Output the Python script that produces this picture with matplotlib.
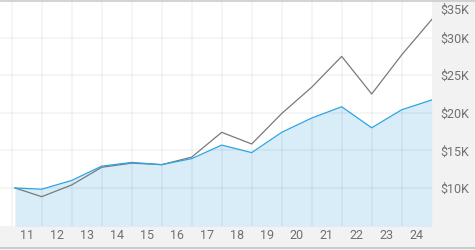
import matplotlib
matplotlib.use("Agg")
import matplotlib.pyplot as plt
from matplotlib.ticker import FixedLocator

# Data (values in $K)
dates = [2011.11, 2012, 2013, 2014, 2015, 2016, 2017, 2018, 2019, 2020,
         2021, 2022, 2023, 2024, 2025]
fund = [10.0, 9.83, 11.0, 12.9, 13.4, 13.1, 13.9, 15.7, 14.7, 17.4,
        19.3, 20.8, 18.0, 20.4, 21.7]
index = [10.0, 8.84, 10.4, 12.75, 13.3, 13.1, 14.1, 17.4, 15.85, 19.9,
         23.4, 27.5, 22.5, 27.7, 32.4]
year_labels = ["11", "12", "13", "14", "15", "16", "17", "18", "19", "20",
               "21", "22", "23", "24"]
year_pos = [2011.5 + i for i in range(len(year_labels))]
y_ticks = [10, 15, 20, 25, 30]
y_labels = ["$10K", "$15K", "$20K", "$25K", "$30K"]

plt.rcParams['font.family'] = ['Roboto', 'DejaVu Sans']

fig = plt.figure(figsize=(4.75, 2.5), dpi=100, facecolor="#f2f2f2")
ax = fig.add_axes([0, 24 / 250, 431.7 / 475, 226 / 250])
ax.set_facecolor("white")

ax.fill_between(dates, fund, 0, color="#d8edf8", linewidth=0, zorder=1)
ax.plot(dates, index, color="#7a7a7a", linewidth=0.9, zorder=3)
ax.plot(dates, fund, color="#2aa5e3", linewidth=0.9, zorder=4)

ax.set_xlim(2010.61, 2025.0)
ax.set_ylim(4.94, 35)

# grid
ax.xaxis.set_minor_locator(FixedLocator(list(range(2011, 2025))))
ax.set_xticks(year_pos)
ax.set_xticklabels(year_labels)
ax.grid(True, which="minor", axis="x", color="k", alpha=0.05, linewidth=1.1, zorder=2)
ax.set_axisbelow(False)
for yv in y_ticks:
    ax.axhline(yv, color="k", alpha=0.05, linewidth=1.1, zorder=2)

ax.yaxis.tick_right()
ax.set_yticks(y_ticks)
ax.set_yticklabels(y_labels)
ax.tick_params(axis="both", which="both", length=0, labelsize=9, labelcolor="#707070")
ax.tick_params(axis="y", pad=6)
ax.tick_params(axis="x", pad=2.5)
ax.annotate("$35K", xy=(1, 1), xycoords="axes fraction", xytext=(6, -7.5),
            textcoords="offset points", ha="left", va="center",
            fontsize=9, color="#707070", annotation_clip=False)

for s in ax.spines.values():
    s.set_visible(False)

# top border and bottom line
fig.add_artist(plt.Line2D([0, 1], [1 - 0.5 / 250, 1 - 0.5 / 250], color="#cccccc", linewidth=1.2))
fig.add_artist(plt.Line2D([0, 1], [1.7 / 250, 1.7 / 250], color="#c4c4c4", linewidth=1.2))

fig.savefig("out.png", dpi=100, facecolor=fig.get_facecolor())
